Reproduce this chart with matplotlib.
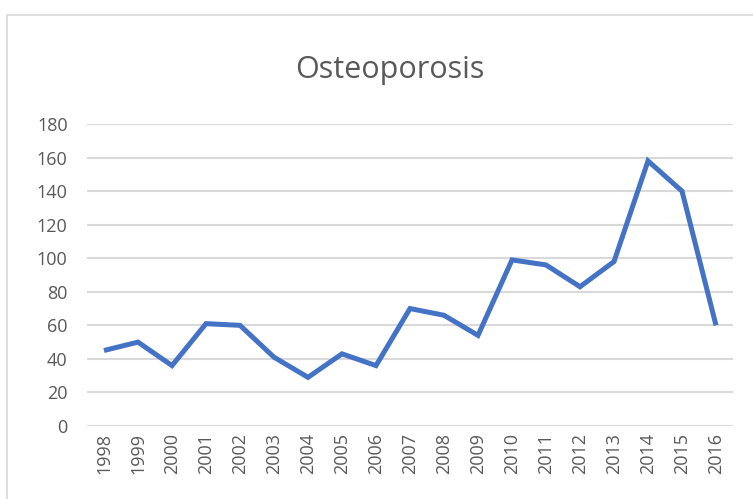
import matplotlib.pyplot as plt
from matplotlib.patches import Rectangle

years = [str(y) for y in range(1998, 2017)]
cases = [45, 50, 36, 61, 60, 41, 29, 43, 36, 70, 66, 54, 99, 96, 83, 98, 158, 140, 60]
y_ticks = [0, 20, 40, 60, 80, 100, 120, 140, 160, 180]

plt.rcParams["font.family"] = ["Open Sans", "DejaVu Sans"]
text_gray = "#595959"
grid_gray = "#D9D9D9"

fig = plt.figure(figsize=(7.53, 4.99), dpi=100)
ax = fig.add_axes([87 / 753, 1 - 426 / 499, 646 / 753, 302 / 499])

# chart frame (cropped on right and bottom in the reference)
fig.patches.append(Rectangle((7 / 753, -0.1), 1.2, 1 - 15 / 499 + 0.1,
                             transform=fig.transFigure, fill=False,
                             edgecolor=grid_gray, linewidth=1.2))

x = list(range(len(years)))
ax.plot(x, cases, color="#4472C4", linewidth=3.6, solid_joinstyle="miter",
        solid_capstyle="butt", zorder=3)

ax.set_xlim(-0.5, len(years) - 0.5)
ax.set_ylim(0, 180)
ax.set_yticks(y_ticks)
ax.set_xticks(x)
ax.set_xticklabels(years, rotation=90)
ax.yaxis.grid(True, color=grid_gray, linewidth=1.5)
ax.set_axisbelow(True)
for s in ax.spines.values():
    s.set_visible(False)
ax.tick_params(axis="both", length=0, labelsize=13, labelcolor=text_gray)
ax.tick_params(axis="y", pad=14)
ax.tick_params(axis="x", pad=5)

fig.text(390 / 753, 1 - 70 / 499, "Osteoporosis", ha="center", va="center",
         fontsize=22, color=text_gray)

fig.savefig("out.png", dpi=100)
